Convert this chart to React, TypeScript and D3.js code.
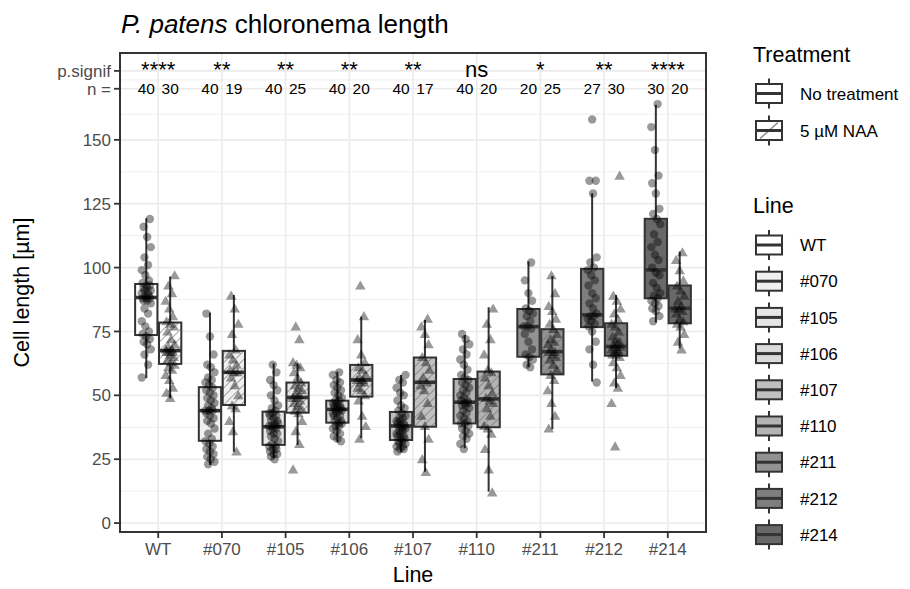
import React, { useRef, useEffect } from "react";
import * as d3 from "d3";

// categories / legend entries
const lines = ["WT", "#070", "#105", "#106", "#107", "#110", "#211", "#212", "#214"];
const treatments = ["No treatment", "5 µM NAA"];
const lineFills = ["#FFFFFF", "#F0F0F0", "#E6E6E6", "#DADADA", "#C0C0C0", "#B3B3B3", "#929292", "#7E7E7E", "#686868"];

// annotations above the boxes
const pSignif = ["****", "**", "**", "**", "**", "ns", "*", "**", "****"];
const nNoTreatment = [40, 40, 40, 40, 40, 40, 20, 27, 30];
const nNAA = [30, 19, 25, 20, 17, 20, 25, 30, 20];

// y axis
const yTicks = [0, 25, 50, 75, 100, 125, 150];
const yMinor = [12.5, 37.5, 62.5, 87.5, 112.5, 137.5, 160, 173.5];
const nRowY = 170;
const signifRowY = 177;

// box stats: [lower whisker, Q1, median, Q3, upper whisker]
const boxNoTreatment = [
  [56.7, 73.6, 88.3, 93.6, 119.3],
  [22.7, 32.2, 44.0, 53.2, 82.4],
  [25.3, 30.6, 37.7, 43.6, 62.5],
  [31.8, 39.3, 44.5, 47.9, 59.3],
  [27.9, 32.5, 38.0, 43.5, 58.0],
  [29.3, 39.0, 47.3, 56.4, 73.6],
  [61.2, 65.1, 76.9, 83.8, 102.4],
  [55.4, 76.7, 81.5, 99.5, 129.1],
  [78.5, 88.0, 99.1, 119.1, 163.7],
];
const boxNAA = [
  [48.8, 62.3, 67.5, 78.5, 96.5],
  [27.9, 46.2, 59.0, 67.4, 89.3],
  [30.6, 43.2, 49.2, 55.0, 62.5],
  [33.2, 49.5, 56.0, 61.9, 80.8],
  [20.1, 37.7, 55.1, 64.8, 79.5],
  [12.3, 37.5, 48.6, 59.3, 84.5],
  [36.7, 58.2, 67.1, 75.9, 96.7],
  [52.8, 65.5, 69.1, 78.2, 89.3],
  [68.4, 78.2, 84.1, 93.0, 106.3],
];

// individual cells (µm)
const ptsNoTreatment = [
  [57, 62, 66, 68, 70, 71, 72, 73, 74, 75, 77, 79, 82, 84, 86, 87, 87, 88, 88, 88, 89, 89, 90, 90, 91, 91, 92, 92, 93, 93, 94, 95, 97, 99, 101, 104, 108, 112, 116, 119],
  [23, 24, 25, 26, 27, 28, 29, 30, 31, 32, 33, 35, 37, 39, 40, 41, 42, 43, 44, 44, 44, 45, 46, 47, 48, 49, 50, 51, 52, 53, 54, 55, 56, 57, 59, 61, 62, 66, 73, 82],
  [25, 26, 27, 27, 28, 29, 29, 30, 30, 31, 32, 33, 34, 35, 35, 36, 37, 37, 38, 38, 38, 39, 39, 40, 40, 41, 42, 42, 43, 43, 44, 45, 46, 48, 50, 52, 54, 56, 59, 62],
  [32, 33, 34, 35, 36, 37, 38, 38, 39, 39, 40, 40, 41, 42, 42, 43, 43, 44, 44, 44, 45, 45, 45, 46, 46, 46, 47, 47, 48, 48, 49, 50, 51, 52, 53, 54, 55, 56, 58, 59],
  [28, 29, 29, 30, 30, 31, 31, 32, 32, 33, 33, 34, 34, 35, 35, 36, 36, 37, 37, 38, 38, 38, 39, 39, 40, 40, 41, 41, 42, 43, 44, 45, 46, 48, 50, 51, 53, 55, 56, 58],
  [29, 31, 33, 34, 35, 36, 37, 38, 39, 39, 40, 41, 42, 43, 44, 45, 46, 46, 47, 47, 48, 48, 49, 50, 51, 52, 53, 54, 55, 56, 57, 58, 60, 62, 64, 66, 68, 70, 72, 74],
  [61, 62, 64, 65, 66, 68, 71, 74, 76, 77, 77, 79, 81, 82, 83, 84, 87, 90, 95, 102],
  [55, 62, 68, 71, 75, 77, 78, 79, 80, 81, 81, 82, 84, 86, 88, 90, 93, 95, 97, 99, 100, 102, 104, 129, 134, 134, 158],
  [79, 81, 83, 84, 85, 86, 87, 88, 89, 90, 92, 94, 97, 98, 100, 103, 105, 108, 110, 113, 117, 119, 121, 123, 129, 133, 136, 146, 155, 164],
];
const ptsNAA = [
  [49, 51, 53, 56, 58, 60, 61, 62, 63, 64, 65, 66, 67, 67, 67, 68, 68, 69, 70, 72, 75, 77, 78, 79, 81, 84, 87, 90, 93, 97],
  [28, 36, 40, 45, 46, 50, 54, 57, 59, 59, 60, 62, 64, 66, 68, 74, 78, 84, 89],
  [21, 31, 36, 40, 43, 44, 45, 46, 47, 48, 49, 49, 50, 51, 52, 53, 54, 55, 57, 59, 61, 62, 63, 72, 77],
  [33, 38, 42, 48, 50, 52, 53, 55, 55, 56, 56, 57, 58, 60, 61, 63, 66, 72, 81, 93],
  [20, 25, 33, 38, 42, 47, 52, 54, 55, 57, 60, 63, 65, 70, 74, 77, 80],
  [12, 21, 29, 35, 37, 38, 42, 45, 47, 48, 49, 51, 54, 57, 59, 60, 66, 72, 78, 84],
  [37, 42, 47, 52, 56, 58, 60, 62, 64, 65, 66, 67, 67, 68, 70, 71, 72, 74, 76, 78, 80, 83, 85, 90, 97],
  [30, 47, 53, 55, 58, 61, 63, 65, 66, 66, 67, 67, 68, 68, 69, 69, 70, 70, 71, 72, 73, 75, 77, 78, 80, 82, 84, 87, 89, 136],
  [68, 71, 74, 77, 78, 79, 80, 82, 83, 84, 84, 85, 87, 89, 91, 93, 95, 99, 103, 106],
];

const FONT = "'Liberation Sans', Arial, Helvetica, sans-serif";
const INK = "#333333";

export default function App() {
  const ref = useRef<SVGSVGElement>(null);

  useEffect(() => {
    const svg = d3.select(ref.current);
    svg.selectAll("*").remove();

    const width = 910, height = 589;
    const pLeft = 120, pRight = 706, pTop = 53, pBottom = 532;

    const x = d3.scalePoint<string>().domain(lines).range([pLeft, pRight]).padding(0.6);
    const step = x.step();
    const y = d3.scaleLinear().domain([-3.5, 184]).range([pBottom, pTop]);
    const dodge = 0.1875 * step;
    const boxW = 0.35 * step;

    const defs = svg.append("defs");
    const pat = defs.append("pattern")
      .attr("id", "hatch")
      .attr("patternUnits", "userSpaceOnUse")
      .attr("width", 6).attr("height", 6)
      .attr("patternTransform", "rotate(45)");
    pat.append("line").attr("x1", 0).attr("y1", 0).attr("x2", 0).attr("y2", 6)
      .attr("stroke", "#6a6a6a").attr("stroke-width", 1.2);
    defs.append("clipPath").attr("id", "panelClip")
      .append("rect").attr("x", pLeft).attr("y", pTop)
      .attr("width", pRight - pLeft).attr("height", pBottom - pTop);

    svg.append("rect").attr("width", width).attr("height", height).attr("fill", "#fff");

    // grid
    const grid = svg.append("g");
    yMinor.forEach((v) => {
      grid.append("line").attr("x1", pLeft).attr("x2", pRight)
        .attr("y1", y(v)).attr("y2", y(v))
        .attr("stroke", "#EBEBEB").attr("stroke-width", 0.8);
    });
    [...yTicks, nRowY, signifRowY].forEach((v) => {
      grid.append("line").attr("x1", pLeft).attr("x2", pRight)
        .attr("y1", y(v)).attr("y2", y(v))
        .attr("stroke", "#EBEBEB").attr("stroke-width", 1.6);
    });
    lines.forEach((l) => {
      grid.append("line").attr("x1", x(l)!).attr("x2", x(l)!)
        .attr("y1", pTop).attr("y2", pBottom)
        .attr("stroke", "#EBEBEB").attr("stroke-width", 1.6);
    });

    // boxes
    const boxes = svg.append("g").attr("clip-path", "url(#panelClip)");
    lines.forEach((l, i) => {
      [boxNoTreatment[i], boxNAA[i]].forEach((s, t) => {
        const cx = x(l)! + (t === 0 ? -dodge : dodge);
        const [lo, q1, md, q3, hi] = s;
        boxes.append("line").attr("x1", cx).attr("x2", cx)
          .attr("y1", y(hi)).attr("y2", y(q3))
          .attr("stroke", INK).attr("stroke-width", 2);
        boxes.append("line").attr("x1", cx).attr("x2", cx)
          .attr("y1", y(q1)).attr("y2", y(lo))
          .attr("stroke", INK).attr("stroke-width", 2);
        boxes.append("rect")
          .attr("x", cx - boxW / 2).attr("y", y(q3))
          .attr("width", boxW).attr("height", y(q1) - y(q3))
          .attr("fill", lineFills[i]);
        if (t === 1) {
          boxes.append("rect")
            .attr("x", cx - boxW / 2).attr("y", y(q3))
            .attr("width", boxW).attr("height", y(q1) - y(q3))
            .attr("fill", "url(#hatch)");
        }
        boxes.append("rect")
          .attr("x", cx - boxW / 2).attr("y", y(q3))
          .attr("width", boxW).attr("height", y(q1) - y(q3))
          .attr("fill", "none").attr("stroke", INK).attr("stroke-width", 2);
        boxes.append("line")
          .attr("x1", cx - boxW / 2).attr("x2", cx + boxW / 2)
          .attr("y1", y(md)).attr("y2", y(md))
          .attr("stroke", INK).attr("stroke-width", 3.6);
      });
    });

    // jittered points
    const pts = svg.append("g").attr("clip-path", "url(#panelClip)");
    const tri = d3.symbol().type(d3.symbolTriangle).size(48)();
    lines.forEach((l, i) => {
      [ptsNoTreatment[i], ptsNAA[i]].forEach((vals, t) => {
        const cx = x(l)! + (t === 0 ? -dodge : dodge);
        vals.forEach((v, k) => {
          const jit = (((k * 7 + i * 3 + t * 5) % 11) / 10 - 0.5) * 9;
          if (t === 0) {
            pts.append("circle").attr("cx", cx + jit).attr("cy", y(v)).attr("r", 4.2)
              .attr("fill", "#000").attr("fill-opacity", 0.4);
          } else {
            pts.append("path").attr("d", tri)
              .attr("transform", `translate(${cx + jit},${y(v) + 1})`)
              .attr("fill", "#000").attr("fill-opacity", 0.4);
          }
        });
      });
    });

    // significance + n labels
    lines.forEach((l, i) => {
      svg.append("text").attr("x", x(l)!).attr("y", y(signifRowY) + 6)
        .attr("text-anchor", "middle").attr("font-family", FONT).attr("font-size", 22)
        .attr("fill", "#000").text(pSignif[i]);
      [nNoTreatment[i], nNAA[i]].forEach((n, t) => {
        svg.append("text").attr("x", x(l)! + (t === 0 ? -dodge : dodge)).attr("y", y(nRowY) + 5.5)
          .attr("text-anchor", "middle").attr("font-family", FONT).attr("font-size", 15.5)
          .attr("fill", "#000").text(n);
      });
    });

    // panel border
    svg.append("rect").attr("x", pLeft).attr("y", pTop)
      .attr("width", pRight - pLeft).attr("height", pBottom - pTop)
      .attr("fill", "none").attr("stroke", INK).attr("stroke-width", 2);

    // y axis
    const yAxisTicks: [number, string][] = [
      ...yTicks.map((v) => [v, String(v)] as [number, string]),
      [nRowY, "n ="],
      [signifRowY, "p.signif"],
    ];
    yAxisTicks.forEach(([v, lab]) => {
      svg.append("line").attr("x1", pLeft - 6).attr("x2", pLeft)
        .attr("y1", y(v)).attr("y2", y(v)).attr("stroke", INK).attr("stroke-width", 1.8);
      svg.append("text").attr("x", pLeft - 9).attr("y", y(v)).attr("dy", "0.36em")
        .attr("text-anchor", "end").attr("font-family", FONT).attr("font-size", 17)
        .attr("fill", "#4D4D4D").text(lab);
    });

    // x axis
    lines.forEach((l) => {
      svg.append("line").attr("x1", x(l)!).attr("x2", x(l)!)
        .attr("y1", pBottom).attr("y2", pBottom + 6).attr("stroke", INK).attr("stroke-width", 1.8);
      svg.append("text").attr("x", x(l)!).attr("y", pBottom + 23)
        .attr("text-anchor", "middle").attr("font-family", FONT).attr("font-size", 17)
        .attr("fill", "#4D4D4D").text(l);
    });

    // titles
    svg.append("text").attr("x", (pLeft + pRight) / 2).attr("y", 582)
      .attr("text-anchor", "middle").attr("font-family", FONT).attr("font-size", 21.5)
      .text("Line");
    svg.append("text")
      .attr("transform", `translate(29,${(pTop + pBottom) / 2}) rotate(-90)`)
      .attr("text-anchor", "middle").attr("font-family", FONT).attr("font-size", 21.5)
      .text("Cell length [µm]");
    const title = svg.append("text").attr("x", 121).attr("y", 33)
      .attr("font-family", FONT).attr("font-size", 26);
    title.append("tspan").attr("font-style", "italic").text("P. patens");
    title.append("tspan").text(" chloronema length");

    // legends
    const kx = 756, kw = 26;
    const drawKey = (cy: number, fill: string, hatched: boolean) => {
      const g = svg.append("g");
      g.append("line").attr("x1", kx + kw / 2).attr("x2", kx + kw / 2)
        .attr("y1", cy - 15).attr("y2", cy + 15).attr("stroke", INK).attr("stroke-width", 2);
      g.append("rect").attr("x", kx).attr("y", cy - 9.5).attr("width", kw).attr("height", 19)
        .attr("fill", fill).attr("stroke", INK).attr("stroke-width", 2);
      if (hatched) {
        g.append("line").attr("x1", kx + 4).attr("y1", cy + 8)
          .attr("x2", kx + kw - 4).attr("y2", cy - 8)
          .attr("stroke", "#8a8a8a").attr("stroke-width", 1.4);
      }
      g.append("line").attr("x1", kx).attr("x2", kx + kw).attr("y1", cy).attr("y2", cy)
        .attr("stroke", INK).attr("stroke-width", 3);
    };

    svg.append("text").attr("x", 753).attr("y", 62).attr("font-family", FONT)
      .attr("font-size", 21.5).text("Treatment");
    treatments.forEach((tr, t) => {
      const cy = 93.5 + t * 37;
      drawKey(cy, "#fff", t === 1);
      svg.append("text").attr("x", 800).attr("y", cy).attr("dy", "0.36em")
        .attr("font-family", FONT).attr("font-size", 17).text(tr);
    });

    svg.append("text").attr("x", 753).attr("y", 213).attr("font-family", FONT)
      .attr("font-size", 21.5).text("Line");
    lines.forEach((l, i) => {
      const cy = 245 + i * 36.2;
      drawKey(cy, lineFills[i], false);
      svg.append("text").attr("x", 800).attr("y", cy).attr("dy", "0.36em")
        .attr("font-family", FONT).attr("font-size", 17).text(l);
    });
  }, []);

  return (
    <svg ref={ref} width={910} height={589}
      style={{ position: "absolute", left: 0, top: 0, display: "block" }} />
  );
}
